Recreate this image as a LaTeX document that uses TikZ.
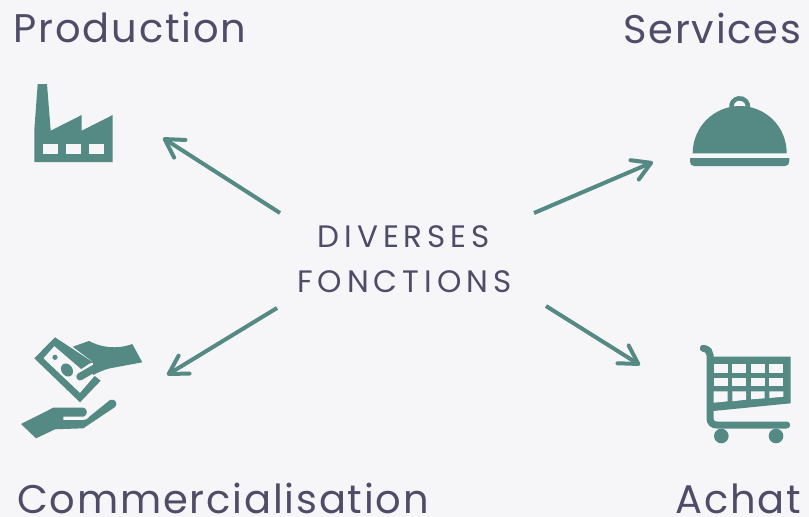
\documentclass[tikz,border=0pt]{standalone}
\usepackage{fontspec}
\setmainfont{Poppins}
\newfontfamily\bigf[LetterSpace=4.5]{Poppins}
\newfontfamily\midf[LetterSpace=16]{Poppins}
\usetikzlibrary{arrows.meta}
\definecolor{teal1}{HTML}{548984}
\definecolor{ink}{HTML}{4F4C68}
\definecolor{bg}{HTML}{F6F6F9}
\tikzset{
  x=1pt,y=-1pt,
  label1/.style={text=ink,inner sep=0pt,anchor=base west,font=\bigf\fontsize{40}{40}\selectfont},
  mid/.style={text=ink,inner sep=0pt,anchor=base west,font=\midf\fontsize{31}{31}\selectfont},
  conn/.style={draw=teal1,line width=4pt,-{Straight Barb[length=18pt,width=21pt,line width=4pt,round]}},
  ic/.style={fill=teal1,draw=none},
  hole/.style={fill=bg,draw=none},
}
\begin{document}
\begin{tikzpicture}
\fill[bg] (0,0) rectangle (809,517);
\useasboundingbox (0,0) rectangle (809,517);
\node[label1] (prod) at (13.5,42) {Production};
\node[label1] (serv) at (623,43) {Services};
\node[label1] (comm) at (17,513) {Commercialisation};
\node[label1] (achat) at (675.5,513) {Achat};
\node[mid] (d1) at (317.5,247.5) {DIVERSES};
\node[mid] (d2) at (297,292) {FONCTIONS};
% arrows
\coordinate (a1s) at (280,213); \coordinate (a1e) at (163,138);
\coordinate (a2s) at (534,213); \coordinate (a2e) at (653,162);
\coordinate (a3s) at (277,308); \coordinate (a3e) at (167,375);
\coordinate (a4s) at (546,306); \coordinate (a4e) at (640,365);
\draw[conn] (a1s) -- (a1e);
\draw[conn] (a2s) -- (a2e);
\draw[conn] (a3s) -- (a3e);
\draw[conn] (a4s) -- (a4e);
% factory
\fill[ic] (37.7,84) -- (47,84) -- (50.7,130.7) -- (81.7,115) -- (81.7,130.7) -- (112.7,115) -- (112.7,162) -- (34.3,162) -- (34.3,130) -- cycle;
\fill[hole] (43.3,143.7) rectangle (57.7,154);
\fill[hole] (66.3,143.7) rectangle (80.7,154);
\fill[hole] (89.3,143.7) rectangle (103.7,154);
% cloche
\fill[ic] (692.7,153.3) .. controls (692.7,126) and (715,106) .. (739.7,106) .. controls (765,106) and (786.7,126) .. (786.7,153.3) -- cycle;
\fill[ic] (690,158) -- (789.3,158) -- (789.3,161) .. controls (789.3,164) and (788,166) .. (785,166) -- (694,166) .. controls (691,166) and (690,164) .. (690,161) -- cycle;
\draw[teal1,line width=4.5pt] (731.5,108) arc[start angle=190,end angle=-10,x radius=8.3,y radius=-8.3];
% money: bill
\fill[ic] (55,337.3) -- (34.3,358.3) -- (80,402.3) -- (100.7,380.7) -- (94.7,376) -- (80,393) -- (43.3,358.3) -- (54.3,346) -- (83.5,371) -- (93,366) -- (93,362.3) -- cycle;
\fill[ic] (55,357.3) circle (2.6);
\fill[ic,rotate around={-55:(67,370)}] (67,370) ellipse (7 and 5.5);
\draw[bg,line width=11pt,line cap=round] (80,376.7) -- (93,368);
\fill[ic] (72.7,346.7) -- (89,341) .. controls (100,347) and (116,350) .. (132.3,344) -- (142.3,362.3) -- (110,368.3) .. controls (103,370) and (97,373) .. (93,375) -- (93,362) -- cycle;
\draw[teal1,line width=7.5pt,line cap=round] (80,376.7) -- (95,368);
% lower hand
\fill[ic] (21,424) -- (53.3,407.7) -- (83.3,407.7) .. controls (88,408) and (88,416) .. (83.3,416.7) -- (63.3,416.7) -- (63.3,420) -- (83.3,420) .. controls (86,420) and (88,419) .. (89.3,416.7) -- (110,400) .. controls (116,398) and (118,404) .. (115,407) -- (83.3,428.3) -- (55,429.3) -- (36,438.3) -- cycle;
% cart
\draw[teal1,line width=7pt,line cap=round] (703.3,348.3) .. controls (708,349) and (710,352) .. (710,355) -- (710,418) .. controls (710,423) and (713,425) .. (717,425) -- (786.7,425);
\fill[ic] (710,356.7) -- (790.7,356.7) -- (790.7,403.3) -- (713.3,411) -- cycle;
\foreach \xa/\xb in {713.7/727.7,732.3/746,751/764.7,769.3/783.3}{
  \fill[hole] (\xa,364) rectangle (\xb,372.7);
  \fill[hole] (\xa,377.7) rectangle (\xb,386);
}
\fill[hole] (713.7,391.3) -- (727.7,391.3) -- (727.7,401.3) -- (713.7,402.7) -- cycle;
\fill[hole] (732.3,391.3) -- (746,391.3) -- (746,399.7) -- (732.3,401.3) -- cycle;
\fill[hole] (751,391.3) -- (764.7,391.3) -- (764.7,398.3) -- (751,399.3) -- cycle;
\fill[hole] (769.3,391.3) -- (783.3,391.3) -- (783.3,396.7) -- (769.3,398) -- cycle;
\fill[ic] (721.3,436) circle (7.3);
\fill[ic] (776,436) circle (7.3);
\end{tikzpicture}
\end{document}
